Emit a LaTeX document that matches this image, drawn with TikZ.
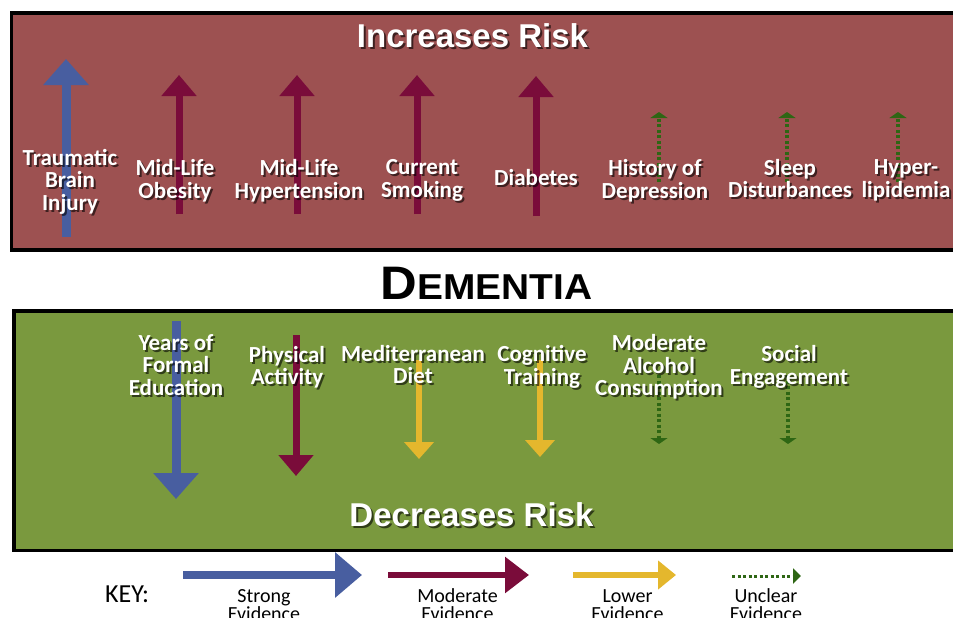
\documentclass[tikz,border=0pt]{standalone}
\usepackage{fontspec}
\setmainfont{Carlito}
\newfontfamily\arialfont{Liberation Sans}
\usetikzlibrary{arrows.meta}

\definecolor{riskred}{RGB}{157,81,81}
\definecolor{riskgreen}{RGB}{122,153,62}
\definecolor{evblue}{RGB}{72,94,160}
\definecolor{evmaroon}{RGB}{122,12,58}
\definecolor{evyellow}{RGB}{228,183,45}
\definecolor{evgreen}{RGB}{46,102,20}

\newcommand\lblfont{\bfseries\fontsize{23}{22.5}\selectfont}
\newcommand\titlefont{\arialfont\bfseries\fontsize{33}{33}\selectfont}
\newcommand\keyfont{\fontsize{20}{18}\selectfont}

\tikzset{
  panel/.style={draw=black, line width=3.5pt, inner sep=0pt, anchor=north west},
  strongarrow/.style={draw=evblue, line width=9pt, line cap=butt, -{Triangle[width=44pt,length=26pt]}},
  moderatearrow/.style={draw=evmaroon, line width=7pt, line cap=butt, -{Triangle[width=34pt,length=21pt]}},
  lowerarrow/.style={draw=evyellow, line width=6pt, line cap=butt, -{Triangle[width=29pt,length=17pt]}},
  uncleararrow/.style={draw=evgreen, line width=3.5pt, line cap=butt, dash pattern=on 3pt off 2.5pt, -{Triangle[width=17pt,length=6pt]}},
  lbl/.style={text=white, font=\lblfont, align=center, inner sep=0pt},
  titlelbl/.style={text=white, font=\titlefont, inner sep=0pt, anchor=base},
  keylbl/.style={text=black, font=\keyfont, align=center, inner sep=0pt},
}

% shadowed text: style, name, x, y, text
\newcommand\shtxt[5]{%
  \node[#1, text=black, opacity=0.6] (#2-sh) at (#3+2,#4+2) {#5};
  \node[#1] (#2) at (#3,#4) {#5};}

\begin{document}
\begin{tikzpicture}[x=1pt,y=-1pt]
\useasboundingbox (0,0) rectangle (953,618);
\fill[white] (0,0) rectangle (953,618);

% panels
\node[panel, fill=riskred, minimum width=960pt, minimum height=236.5pt] (upper) at (9.5,11.5) {};
\node[panel, fill=riskgreen, minimum width=960pt, minimum height=239.5pt] (lower) at (12,309) {};

% ---- upper arrows ----
\coordinate (tbi-s) at (66,237);   \coordinate (tbi-e) at (66,59);
\coordinate (obe-s) at (179,214);  \coordinate (obe-e) at (179,75);
\coordinate (hyp-s) at (297,214);  \coordinate (hyp-e) at (297,75);
\coordinate (smo-s) at (417,214);  \coordinate (smo-e) at (417,75);
\coordinate (dia-s) at (536,216);  \coordinate (dia-e) at (536,76);
\coordinate (dep-s) at (659,182);  \coordinate (dep-e) at (659,112);
\coordinate (sle-s) at (787,182);  \coordinate (sle-e) at (787,112);
\coordinate (lip-s) at (898,182);  \coordinate (lip-e) at (898,112);
\draw[strongarrow] (tbi-s) -- (tbi-e);
\draw[moderatearrow] (obe-s) -- (obe-e);
\draw[moderatearrow] (hyp-s) -- (hyp-e);
\draw[moderatearrow] (smo-s) -- (smo-e);
\draw[moderatearrow] (dia-s) -- (dia-e);
\draw[uncleararrow] (dep-s) -- (dep-e);
\draw[uncleararrow] (sle-s) -- (sle-e);
\draw[uncleararrow] (lip-s) -- (lip-e);

% ---- lower arrows ----
\coordinate (edu-s) at (176,321);  \coordinate (edu-e) at (176,499);
\coordinate (phy-s) at (296,335);  \coordinate (phy-e) at (296,476);
\coordinate (die-s) at (419,360);  \coordinate (die-e) at (419,459);
\coordinate (cog-s) at (540,360);  \coordinate (cog-e) at (540,457);
\coordinate (alc-s) at (659,375);  \coordinate (alc-e) at (659,444);
\coordinate (soc-s) at (788,375);  \coordinate (soc-e) at (788,444);
\draw[strongarrow] (edu-s) -- (edu-e);
\draw[moderatearrow] (phy-s) -- (phy-e);
\draw[lowerarrow] (die-s) -- (die-e);
\draw[lowerarrow] (cog-s) -- (cog-e);
\draw[uncleararrow] (alc-s) -- (alc-e);
\draw[uncleararrow] (soc-s) -- (soc-e);

% ---- titles ----
\shtxt{titlelbl}{inc}{472.5}{48}{Increases Risk}
\shtxt{titlelbl}{dec}{471.5}{526}{Decreases Risk}
\node[anchor=base, inner sep=0pt, font=\arialfont\bfseries] (dem) at (486.5,299)
  {\scalebox{1.08}[1]{\fontsize{47}{47}\selectfont D\fontsize{36}{36}\selectfont EMENTIA}};

% ---- upper labels ----
\shtxt{lbl}{tbi}{70}{181.5}{Traumatic\\Brain\\Injury}
\shtxt{lbl}{obe}{175}{180.5}{Mid-Life\\Obesity}
\shtxt{lbl}{hyp}{299}{180.5}{Mid-Life\\Hypertension}
\shtxt{lbl}{smo}{422}{180.5}{Current\\Smoking}
\shtxt{lbl}{dia}{536}{178}{Diabetes}
\shtxt{lbl}{dep}{655}{180.5}{History of\\Depression}
\shtxt{lbl}{sle}{790}{178.3}{Sleep\\Disturbances}
\shtxt{lbl}{lip}{906}{180.5}{Hyper-\\lipidemia}

% ---- lower labels ----
\shtxt{lbl}{edu}{176}{365}{Years of\\Formal\\Education}
\shtxt{lbl}{phy}{287}{367}{Physical\\Activity}
\shtxt{lbl}{die}{413}{364.5}{Mediterranean\\Diet}
\shtxt{lbl}{cog}{542}{367}{Cognitive\\Training}
\shtxt{lbl}{alc}{659}{367}{Moderate\\Alcohol\\Consumption}
\shtxt{lbl}{soc}{789}{367}{Social\\Engagement}

% ---- key ----
\node[anchor=base west, inner sep=0pt, font=\fontsize{26}{26}\selectfont] (key) at (105,602) {KEY:};
\coordinate (ks-s) at (183,575); \coordinate (ks-e) at (362,575);
\coordinate (km-s) at (388,575); \coordinate (km-e) at (529,575);
\coordinate (kl-s) at (573,575); \coordinate (kl-e) at (676,575);
\coordinate (ku-s) at (732,576); \coordinate (ku-e) at (801,576);
\draw[strongarrow, line width=8pt, -{Triangle[width=44pt,length=27pt]}] (ks-s) -- (ks-e);
\draw[moderatearrow, line width=6pt, -{Triangle[width=35pt,length=24pt]}] (km-s) -- (km-e);
\draw[lowerarrow, line width=6pt, -{Triangle[width=28pt,length=18pt]}] (kl-s) -- (kl-e);
\draw[uncleararrow, line width=3pt, -{Triangle[width=15pt,length=8pt]}] (ku-s) -- (ku-e);
\node[keylbl] (kst) at (264,605) {Strong\\Evidence};
\node[keylbl] (kmo) at (457.5,605) {Moderate\\Evidence};
\node[keylbl] (klo) at (627.5,605) {Lower\\Evidence};
\node[keylbl] (kun) at (766,605) {Unclear\\Evidence};
\end{tikzpicture}
\end{document}
